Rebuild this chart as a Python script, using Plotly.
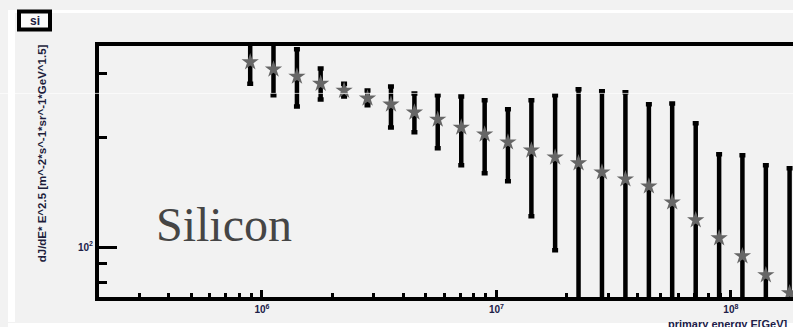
import plotly.graph_objects as go

# ---- data ----
energy_gev = [8.91e5, 1.12e6, 1.41e6, 1.78e6, 2.24e6, 2.82e6, 3.55e6, 4.47e6,
              5.62e6, 7.08e6, 8.91e6, 1.12e7, 1.41e7, 1.78e7, 2.24e7, 2.82e7,
              3.55e7, 4.47e7, 5.62e7, 7.08e7, 8.91e7, 1.12e8, 1.41e8, 1.78e8]
flux = [322, 307.5, 294, 281, 269, 256, 246.5, 234.4, 224, 213, 204, 194,
        184.4, 176.4, 170, 160.5, 153.6, 146.9, 132.8, 118.6, 105.8, 94.5, 83.8, 74.8]
flux_upper = [385, 375, 349, 309, 281, 269, 276, 264, 261, 259, 253, 239,
              253, 261, 271, 267.6, 266, 246.5, 248, 218.7, 179.8, 178.6, 167.8, 164.6]
flux_lower = [281, 261, 243, 254, 259, 245, 213, 206.6, 186.7, 167.8, 159.5, 151.7,
              121.6, 98.1, 0, 0, 0, 0, 0, 0, 0, 0, 0, 0]

x_tick_vals = [1e6, 1e7, 1e8]
x_tick_text = ["<b>10<sup>6</sup></b>", "<b>10<sup>7</sup></b>", "<b>10<sup>8</sup></b>"]
y_tick_vals = [100]
y_tick_text = ["<b>10<sup>2</sup></b>"]
y_minor_vals = [80, 90, 200, 300]
x_minor_vals = [m * 10 ** p for p in (5, 6, 7, 8) for m in range(2, 10)]

err_plus = [u - f for u, f in zip(flux_upper, flux)]
err_minus = [f - l for f, l in zip(flux, flux_lower)]

# ---- layout geometry (pixels) ----
W_FIG, H_FIG = 793, 327
L, R, T, B = 99, 793, 45.5, 297
PW, PH = R - L, B - T


def xp(px):
    return (px - L) / PW


def yp(py):
    return (B - py) / PH


fig = go.Figure()
fig.add_trace(go.Scatter(
    x=energy_gev, y=flux, mode="markers",
    marker=dict(symbol="star", size=13, color="#666666", line=dict(width=0)),
    error_y=dict(type="data", symmetric=False, array=err_plus, arrayminus=err_minus,
                 color="black", thickness=4.5, width=3),
    showlegend=False,
))

tick_font = dict(family="Liberation Sans, Arial", size=10, color="#202048")

fig.update_layout(
    width=W_FIG, height=H_FIG,
    margin=dict(l=L, r=W_FIG - R, t=T, b=H_FIG - B, pad=0),
    paper_bgcolor="#f2f2f2", plot_bgcolor="#f2f2f2",
    xaxis=dict(
        type="log", range=[5.305, 8.265], showgrid=False, zeroline=False,
        showline=True, linecolor="black", linewidth=4, mirror=True,
        tickvals=x_tick_vals, ticktext=x_tick_text,
        ticks="inside", ticklen=7, tickwidth=3, tickcolor="black",
        tickfont=tick_font,
        minor=dict(tickvals=x_minor_vals, ticks="inside", ticklen=4,
                   tickwidth=3, tickcolor="black", showgrid=False),
    ),
    yaxis=dict(
        type="log", range=[1.863, 2.552], showgrid=False, zeroline=False,
        showline=True, linecolor="black", linewidth=4, mirror=False,
        tickvals=y_tick_vals, ticktext=y_tick_text,
        ticks="inside", ticklen=18, tickwidth=3, tickcolor="black",
        tickfont=tick_font,
        minor=dict(tickvals=y_minor_vals, ticks="inside", ticklen=8,
                   tickwidth=3, tickcolor="black", showgrid=False),
    ),
)

shapes = [
    # white pad frame lines
    dict(type="line", xref="paper", yref="paper", x0=xp(8), x1=xp(793), y0=yp(11), y1=yp(11),
         line=dict(color="white", width=3), layer="below"),
    dict(type="line", xref="paper", yref="paper", x0=xp(11.5), x1=xp(11.5), y0=yp(9.5), y1=yp(322),
         line=dict(color="white", width=7), layer="below"),
    dict(type="line", xref="paper", yref="paper", x0=xp(8), x1=xp(793), y0=yp(325), y1=yp(325),
         line=dict(color="white", width=4), layer="below"),
    # faint horizontal artifact line
    dict(type="line", xref="paper", yref="paper", x0=xp(0), x1=xp(793), y0=yp(93), y1=yp(93),
         line=dict(color="white", width=1), opacity=0.7, layer="above"),
    # title box
    dict(type="rect", xref="paper", yref="paper", x0=xp(19), x1=xp(50), y0=yp(11), y1=yp(29),
         line=dict(color="black", width=4), fillcolor="#fafafa", layer="above"),
]
fig.update_layout(shapes=shapes)

annotations = [
    dict(text="<b>si</b>", xref="paper", yref="paper", x=xp(34.5), y=yp(20),
         xanchor="center", yanchor="middle", showarrow=False,
         font=dict(family="Liberation Sans, Arial", size=12, color="#202040")),
    dict(text="Silicon", xref="paper", yref="paper", x=xp(154), y=yp(224),
         xanchor="left", yanchor="middle", showarrow=False,
         font=dict(family="Liberation Serif, Times New Roman, serif", size=48, color="#454545")),
    dict(text="<b>dJ/dE* E^2.5 [m^-2*s^-1*sr^-1*GeV^1.5]</b>", xref="paper", yref="paper",
         x=xp(42), y=yp(153), xanchor="center", yanchor="middle", textangle=-90,
         showarrow=False, font=dict(family="Liberation Sans, Arial", size=11.5, color="#1e1e3c")),
    dict(text="<b>primary energy E[GeV]</b>", xref="paper", yref="paper",
         x=xp(666), y=yp(316), xanchor="left", yanchor="top", showarrow=False,
         font=dict(family="Liberation Sans, Arial", size=11, color="#202048")),
]
fig.update_layout(annotations=annotations)

fig.write_html("out.html")
